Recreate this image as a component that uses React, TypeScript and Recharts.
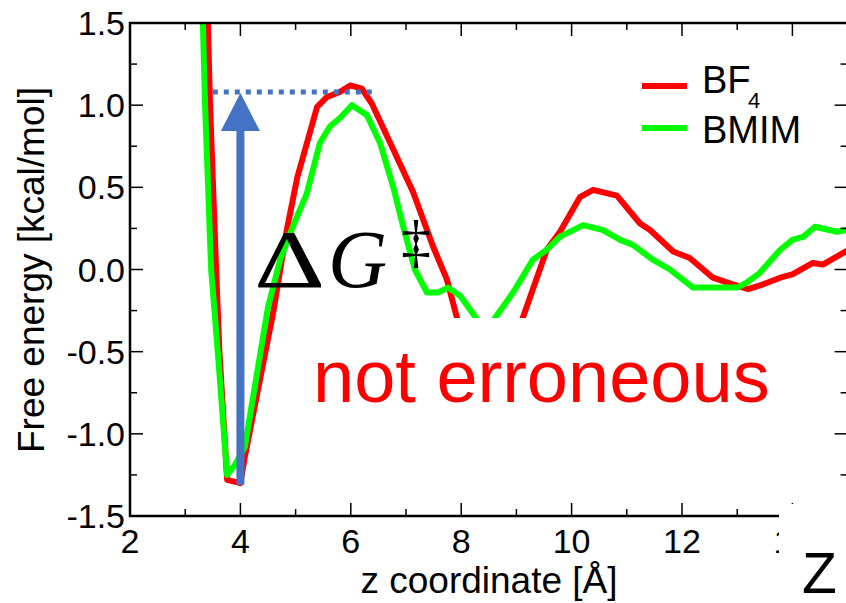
import React from "react";
import { LineChart, Line, XAxis, YAxis, ReferenceLine, ReferenceDot } from "recharts";

// free energy profiles (z in Å, G in kcal/mol)
const bf4Z = [3.37, 3.45, 3.56, 3.62, 3.76, 4.0, 4.08, 4.6, 4.84, 5.03, 5.39, 5.57, 5.8, 5.99, 6.2, 6.38, 6.77, 7.13, 7.49, 7.74, 7.92, 8.2, 8.5, 8.8, 9.12, 9.55, 9.79, 10.15, 10.39, 10.82, 11.24, 11.42, 11.84, 12.14, 12.56, 12.92, 13.2, 13.47, 13.78, 14.0, 14.37, 14.55, 14.97, 15.1];
const bf4G = [2.0, 1.0, 0.0, -0.5, -1.28, -1.3, -1.14, -0.25, 0.24, 0.56, 0.99, 1.05, 1.08, 1.12, 1.1, 1.01, 0.73, 0.47, 0.14, -0.06, -0.29, -0.55, -0.65, -0.55, -0.29, 0.12, 0.23, 0.44, 0.485, 0.45, 0.28, 0.24, 0.11, 0.07, -0.05, -0.09, -0.12, -0.09, -0.05, -0.03, 0.04, 0.03, 0.11, 0.13];

const bmimZ = [3.28, 3.36, 3.47, 3.59, 3.76, 3.9, 4.08, 4.5, 4.72, 4.95, 5.2, 5.44, 5.62, 5.8, 6.02, 6.29, 6.53, 6.77, 6.95, 7.16, 7.38, 7.58, 7.76, 7.98, 8.28, 8.43, 8.58, 8.94, 9.3, 9.55, 9.79, 10.21, 10.57, 10.88, 11.11, 11.47, 11.78, 12.2, 12.56, 13.0, 13.17, 13.41, 13.78, 14.0, 14.2, 14.41, 14.81, 14.97, 15.1];
const bmimG = [2.0, 1.0, 0.0, -0.5, -1.25, -1.19, -1.08, -0.23, 0.06, 0.26, 0.46, 0.77, 0.87, 0.92, 1.0, 0.94, 0.77, 0.5, 0.26, 0.0, -0.14, -0.14, -0.11, -0.16, -0.3, -0.42, -0.31, -0.14, 0.06, 0.12, 0.2, 0.27, 0.24, 0.18, 0.15, 0.06, 0.0, -0.11, -0.11, -0.11, -0.08, -0.02, 0.12, 0.18, 0.2, 0.26, 0.23, 0.24, 0.24];

const xMajor = [2, 4, 6, 8, 10, 12, 14];
const xMinor = [3, 5, 7, 9, 11, 13, 15];
const xLabels = ["2", "4", "6", "8", "10", "12", "14"];
const yMajor = [-1.5, -1.0, -0.5, 0, 0.5, 1.0, 1.5];
const yMinor = [-1.25, -0.75, -0.25, 0.25, 0.75, 1.25];
const yLabels = ["-1.5", "-1.0", "-0.5", "0.0", "0.5", "1.0", "1.5"];

const X_MIN = 2;
const X_MAX = 15;
const Y_MIN = -1.5;
const Y_MAX = 1.5;

// barrier annotation
const barrierLevel = 1.08;
const barrierFrom = 3.5;
const barrierTo = 6.38;
const wellZ = 4.0;
const wellBottom = -1.31;
const arrowBase = 0.85;
const arrowTip = 1.074;

const bf4Data = bf4Z.map((z, i) => ({ z, g: bf4G[i] }));
const bmimData = bmimZ.map((z, i) => ({ z, g: bmimG[i] }));

const FONT = '"Liberation Sans", Arial, Helvetica, sans-serif';
const SERIF = '"Liberation Serif", "Times New Roman", serif';
const BLUE = "#4472C4";
const tickFont = { fill: "#000", fontSize: 34, fontFamily: FONT };

// plot box of the chart below (margins + axis sizes)
const LEFT = 130;
const TOP = 23;
const RIGHT = 847.6;
const BOTTOM = 516;
const px = (v: number) => LEFT + ((v - X_MIN) / (X_MAX - X_MIN)) * (RIGHT - LEFT);
const py = (v: number) => TOP + ((Y_MAX - v) / (Y_MAX - Y_MIN)) * (BOTTOM - TOP);

function ArrowHead(props: any) {
  const { cx, cy } = props;
  return <polygon points={`${cx},${cy} ${cx - 19.5},${cy + 38} ${cx + 19.5},${cy + 38}`} fill={BLUE} />;
}

// grace-style box with inward ticks on all four sides
function Frame() {
  const t = { stroke: "#000", strokeWidth: 1.5 };
  return (
    <g>
      {xMajor.concat(xMinor).map((v) => {
        const len = xMajor.includes(v) ? 13 : 7;
        return (
          <g key={`x${v}`}>
            <line x1={px(v)} x2={px(v)} y1={BOTTOM} y2={BOTTOM - len} {...t} />
            <line x1={px(v)} x2={px(v)} y1={TOP} y2={TOP + len} {...t} />
          </g>
        );
      })}
      {yMajor.concat(yMinor).map((v) => {
        const len = yMajor.includes(v) ? 13 : 7;
        return (
          <g key={`y${v}`}>
            <line x1={LEFT} x2={LEFT + len} y1={py(v)} y2={py(v)} {...t} />
            <line x1={RIGHT} x2={RIGHT - len} y1={py(v)} y2={py(v)} {...t} />
          </g>
        );
      })}
      <rect x={LEFT} y={TOP} width={RIGHT - LEFT} height={BOTTOM - TOP} fill="none" stroke="#000" strokeWidth={2.5} />
    </g>
  );
}

export default function App() {
  return (
    <div style={{ position: "absolute", left: 0, top: 0, width: 846, height: 603, overflow: "hidden", background: "#fff" }}>
      <LineChart width={860} height={603} margin={{ top: TOP, right: 860 - RIGHT, bottom: 0, left: 0 }}>
        <XAxis
          type="number"
          dataKey="z"
          domain={[X_MIN, X_MAX]}
          allowDataOverflow
          ticks={xMajor}
          interval={0}
          height={603 - BOTTOM}
          tickSize={0}
          tickMargin={13}
          tickLine={false}
          axisLine={false}
          tick={tickFont}
          tickFormatter={(v: number) => xLabels[xMajor.indexOf(v)]}
        />
        <YAxis
          type="number"
          domain={[Y_MIN, Y_MAX]}
          allowDataOverflow
          ticks={yMajor}
          interval={0}
          width={LEFT}
          tickSize={0}
          tickMargin={5}
          tickLine={false}
          axisLine={false}
          tick={tickFont}
          tickFormatter={(v: number) => yLabels[yMajor.indexOf(v)]}
        />
        <Line data={bf4Data} dataKey="g" name="BF4" type="linear" stroke="#ff0000" strokeWidth={6} dot={false} strokeLinejoin="round" isAnimationActive={false} />
        <Line data={bmimData} dataKey="g" name="BMIM" type="linear" stroke="#00ff00" strokeWidth={6} dot={false} strokeLinejoin="round" isAnimationActive={false} />
        <ReferenceLine
          segment={[{ x: barrierFrom, y: barrierLevel }, { x: barrierTo, y: barrierLevel }]}
          stroke={BLUE}
          strokeWidth={5}
          strokeDasharray="5 6"
        />
        <ReferenceLine segment={[{ x: wellZ, y: wellBottom }, { x: wellZ, y: arrowBase }]} stroke={BLUE} strokeWidth={8} />
        <ReferenceDot x={wellZ} y={arrowTip} r={0} shape={<ArrowHead />} />
      </LineChart>
      <svg width={846} height={603} style={{ position: "absolute", left: 0, top: 0, pointerEvents: "none" }}>
        <Frame />
        <text x={44} y={270} transform="rotate(-90, 44, 270)" textAnchor="middle" fontSize={37} fontFamily={FONT} fill="#000">
          Free energy [kcal/mol]
        </text>
        <text x={489} y={593} textAnchor="middle" fontSize={37} fontFamily={FONT} fill="#000">z coordinate [Å]</text>
        {/* legend */}
        <line x1={642} x2={687} y1={86} y2={86} stroke="#ff0000" strokeWidth={6} />
        <text x={702} y={93} fontSize={38} fontFamily={FONT} fill="#000">BF</text>
        <text x={748} y={108} fontSize={22} fontFamily={FONT} fill="#000">4</text>
        <line x1={642} x2={687} y1={128} y2={128} stroke="#00ff00" strokeWidth={6} />
        <text x={702} y={143} fontSize={38} fontFamily={FONT} fill="#000">BMIM</text>
        {/* annotations pasted over the plot */}
        <rect x={285} y={318} width={540} height={180} fill="#fff" />
        <text x={313} y={402} fontSize={74} fontFamily={FONT} fill="#ff0000">not erroneous</text>
        <text transform="translate(254,287) scale(1.35,1)" x={0} y={0} fontSize={82} fontFamily={SERIF} fill="#000">Δ</text>
        <text x={328} y={287} fontSize={82} fontFamily={SERIF} fontStyle="italic" fill="#000">G</text>
        <text x={401} y={261} fontSize={60} fontFamily={SERIF} fill="#000">‡</text>
        <rect x={779} y={504} width={67} height={99} fill="#fff" />
        <text x={802} y={593} fontSize={57} fontFamily={FONT} fill="#000">Z</text>
      </svg>
    </div>
  );
}
